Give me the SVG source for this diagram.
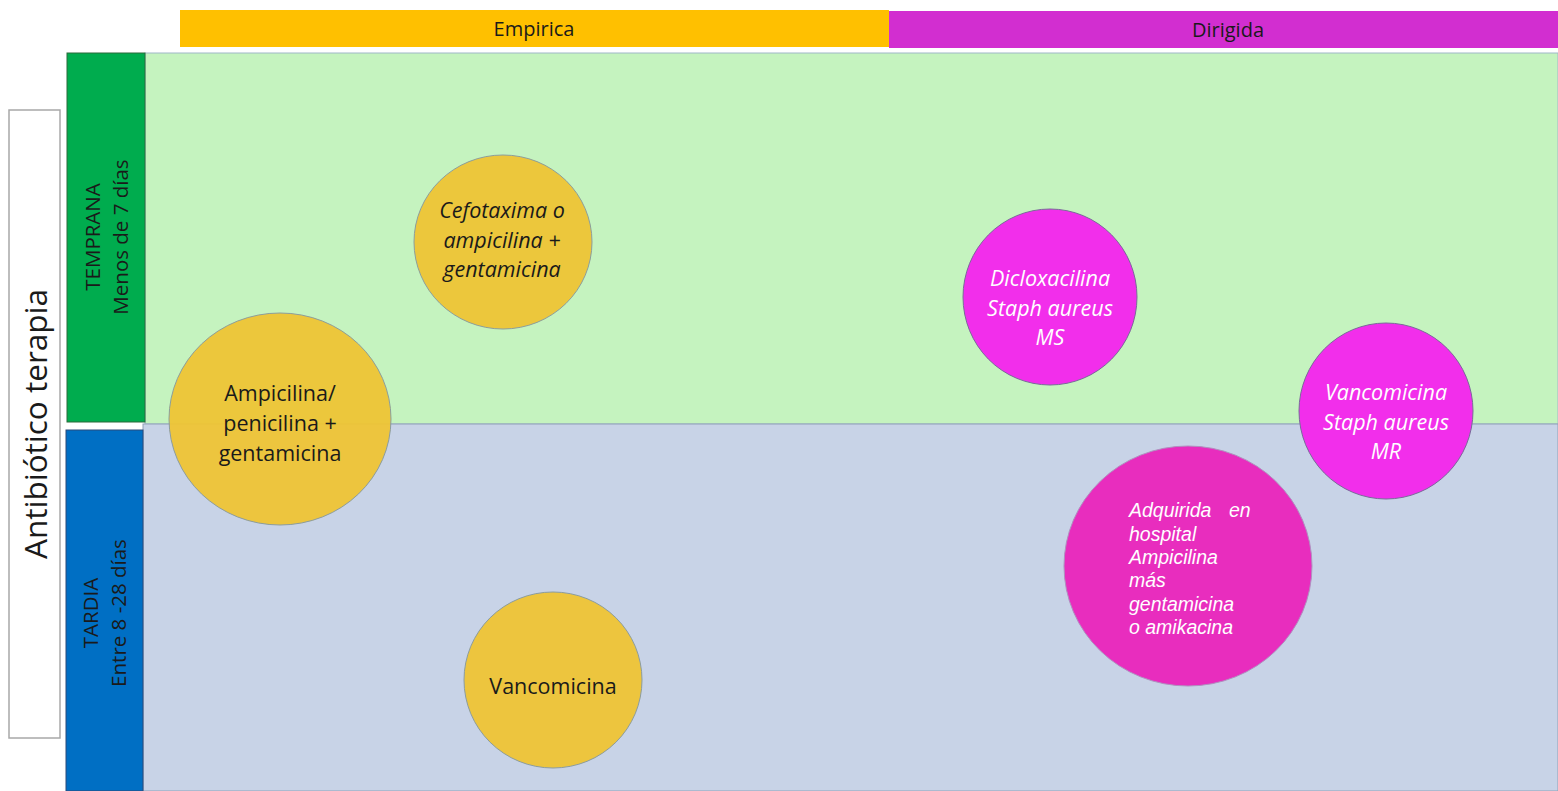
<svg xmlns="http://www.w3.org/2000/svg" width="1558" height="791" viewBox="0 0 1558 791">
<style>
text{font-family:"Open Sans","Liberation Sans",sans-serif;fill:#1a1a1a}
.hdr{font-size:20px;text-anchor:middle}
.side{font-size:20.5px;text-anchor:middle}
.y{fill:#EFC535;stroke:#8a9a9a;stroke-width:1;opacity:0.95}
.m{stroke:#7a6a9a;stroke-width:1}
.bt{font-size:21.5px;text-anchor:middle}
.mt{font-size:21.5px;text-anchor:middle;font-style:italic;fill:#fff}
.it{font-style:italic}
.at{font-family:"Liberation Sans",Arial,sans-serif;font-size:19.5px;font-style:italic;fill:#fff}
</style>
<rect width="1558" height="791" fill="#fff"/>
<g id="bands">
<rect x="145" y="53" width="1413" height="371" fill="#C5F3BF" stroke="#9fb8c8" stroke-width="1"/>
<rect x="143" y="424" width="1415" height="367" fill="#C8D3E7" stroke="#8fa0b8" stroke-width="1"/>
</g>
<g id="header-empirica">
<rect x="180" y="10" width="709" height="37" fill="#FFC000"/>
<text class="hdr" x="534" y="36">Empirica</text>
</g>
<g id="header-dirigida">
<rect x="889" y="11" width="669" height="37" fill="#D22ED0"/>
<text class="hdr" x="1228" y="37">Dirigida</text>
</g>
<g id="row-temprana">
<rect x="67" y="53" width="78" height="369" fill="#00AC4E" stroke="#2a6a3a" stroke-width="1"/>
<text class="side" transform="translate(100,237) rotate(-90)">TEMPRANA</text>
<text class="side" transform="translate(128,237) rotate(-90)">Menos de 7 días</text>
</g>
<g id="row-tardia">
<rect x="66" y="430" width="77" height="361" fill="#006FC4" stroke="#2a4a7a" stroke-width="1"/>
<text class="side" transform="translate(98,613) rotate(-90)">TARDIA</text>
<text class="side" transform="translate(126,613) rotate(-90)">Entre 8 -28 días</text>
</g>
<g id="title">
<rect x="9" y="110" width="51" height="628" fill="#fff" stroke="#a8a8a8" stroke-width="1.5"/>
<text transform="translate(47,424) rotate(-90)" style="font-size:31.5px;text-anchor:middle">Antibiótico terapia</text>
</g>
<g id="connectors"></g>
<g id="n-cefotaxima">
<ellipse class="y" cx="503" cy="242" rx="89" ry="87"/>
<text class="bt it" x="502" y="218">Cefotaxima o</text>
<text class="bt it" x="502" y="248">ampicilina +</text>
<text class="bt it" x="502" y="277">gentamicina</text>
</g>
<g id="n-ampicilina">
<ellipse class="y" cx="280" cy="419" rx="111" ry="106"/>
<text class="bt" x="280" y="401">Ampicilina/</text>
<text class="bt" x="280" y="431">penicilina +</text>
<text class="bt" x="280" y="461">gentamicina</text>
</g>
<g id="n-vancomicina">
<ellipse class="y" cx="553" cy="680" rx="89" ry="88"/>
<text class="bt" x="553" y="694">Vancomicina</text>
</g>
<g id="n-dicloxacilina">
<ellipse class="m" cx="1050" cy="297" rx="87" ry="88" fill="#F22EEB"/>
<text class="mt" x="1050" y="286">Dicloxacilina</text>
<text class="mt" x="1050" y="316">Staph aureus</text>
<text class="mt" x="1050" y="345">MS</text>
</g>
<g id="n-vancomicina-mr">
<ellipse class="m" cx="1386" cy="411" rx="87" ry="88" fill="#F22EEB"/>
<text class="mt" x="1386" y="400">Vancomicina</text>
<text class="mt" x="1386" y="430">Staph aureus</text>
<text class="mt" x="1386" y="459">MR</text>
</g>
<g id="n-adquirida">
<ellipse cx="1188" cy="566" rx="124" ry="120" fill="#E82DBE" stroke="#b090c0" stroke-width="1"/>
<text class="at" x="1129" y="517">Adquirida<tspan x="1229">en</tspan></text>
<text class="at" x="1129" y="541">hospital</text>
<text class="at" x="1129" y="564">Ampicilina</text>
<text class="at" x="1129" y="587">más</text>
<text class="at" x="1129" y="611">gentamicina</text>
<text class="at" x="1129" y="634">o amikacina</text>
</g>
</svg>
